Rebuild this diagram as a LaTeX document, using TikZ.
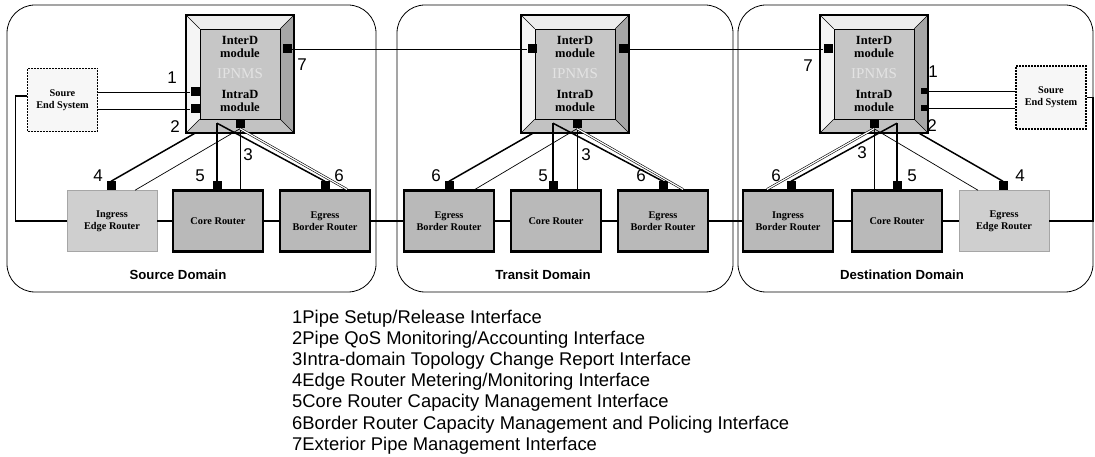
\documentclass[tikz,border=0pt]{standalone}
\usepackage{fontspec}
\setmainfont{Liberation Serif}
\setsansfont{Liberation Sans}
\usetikzlibrary{calc}
\tikzset{
 domainbox/.style={draw, line width=0.8pt, rounded corners=28pt},
 darkrouter/.style={draw, line width=2.2pt, fill=gray!55, minimum width=90pt, minimum height=61pt, inner sep=0pt, align=center, font=\bfseries\fontsize{10.3}{12}\selectfont},
 lightrouter/.style={darkrouter, line width=0.5pt, draw=gray!70, fill=gray!38},
 endsys/.style={draw, line width=1.6pt, dash pattern=on 2pt off 1pt, fill=gray!6, minimum width=70pt, minimum height=63pt, inner sep=0pt, align=center, font=\bfseries\fontsize{10.3}{12}\selectfont},
 port/.style={fill=black, minimum size=9pt, inner sep=0pt},
 smallport/.style={fill=black, minimum size=6pt, inner sep=0pt},
 num/.style={font=\sffamily\fontsize{17}{17}\selectfont, inner sep=0pt},
 ctl/.style={line width=1.5pt},
 info/.style={line width=0.7pt},
 dbl/.style={double, double distance=1.2pt, line width=0.6pt},
 domlabel/.style={font=\sffamily\bfseries\fontsize{13.2}{14}\selectfont, inner sep=0pt},
 legend/.style={font=\sffamily\fontsize{18.4}{20}\selectfont, anchor=base west, inner sep=0pt},
 modtext/.style={font=\bfseries\fontsize{12.5}{13}\selectfont, align=center, inner sep=0pt},
}
\newcommand{\IPbox}[2]{%
 \fill[gray!14] ({#2-54},15) -- ({#2+54},15) -- ({#2+40},29) -- ({#2-40},29) -- cycle;
 \fill[gray!8] ({#2-54},15) -- ({#2-40},29) -- ({#2-40},119) -- ({#2-54},133) -- cycle;
 \fill[gray!70] ({#2+54},15) -- ({#2+54},133) -- ({#2+40},119) -- ({#2+40},29) -- cycle;
 \fill[gray!48] ({#2-54},133) -- ({#2+54},133) -- ({#2+40},119) -- ({#2-40},119) -- cycle;
 \node[draw, line width=0.6pt, fill=gray!45, minimum width=80pt, minimum height=90pt, inner sep=0pt] (#1in) at (#2,74) {};
 \draw[line width=0.6pt] ({#2-54},15) -- (#1in.north west) ({#2+54},15) -- (#1in.north east) ({#2-54},133) -- (#1in.south west) ({#2+54},133) -- (#1in.south east);
 \node[draw, line width=2.4pt, minimum width=108pt, minimum height=118pt, inner sep=0pt] (#1) at (#2,74) {};
 \node[font=\fontsize{15}{15}\selectfont, text=gray!22, inner sep=0pt] (#1wm) at (#2,74) {IPNMS};
 \node[modtext] (#1inter) at (#2,47) {InterD\\module};
 \node[modtext] (#1intra) at (#2,101) {IntraD\\module};
}
\begin{document}
\begin{tikzpicture}[x=1pt,y=-1pt]
\useasboundingbox (0,0) rectangle (1095,457);
\fill[white] (0,0) rectangle (1095,457);
% domains
\draw[domainbox] (7,5) rectangle (376,292);
\draw[domainbox] (397,5) rectangle (733,292);
\draw[domainbox] (738,5) rectangle (1093,292);
% IPNMS boxes
\IPbox{ipA}{240}
\IPbox{ipB}{575}
\IPbox{ipC}{874}
% end systems
\node[endsys] (es1) at (62.5,100) {Soure\\End System};
\node[endsys] (es2) at (1051,97.5) {Soure\\End System};
% routers
\node[lightrouter] (rA1) at (112,221) {Ingress\\Edge Router};
\node[darkrouter] (rA2) at (218,221) {Core Router};
\node[darkrouter] (rA3) at (325,221) {Egress\\Border Router};
\node[darkrouter] (rB1) at (449,221) {Egress\\Border Router};
\node[darkrouter] (rB2) at (556,221) {Core Router};
\node[darkrouter] (rB3) at (663,221) {Egress\\Border Router};
\node[darkrouter] (rC1) at (788,221) {Ingress\\Border Router};
\node[darkrouter] (rC2) at (897,221) {Core Router};
\node[lightrouter] (rC3) at (1004,221) {Egress\\Edge Router};
% ports on IPNMS
\node[port] (pA1) at (195,92) {};
\node[port] (pA2) at (195,109) {};
\node[port] (pA7) at (287,49) {};
\node[port] (pAb) at (240,124) {};
\node[port] (pBl) at (532,49) {};
\node[port] (pBr) at (623,49) {};
\node[port] (pBb) at (577,124) {};
\node[port] (pCl) at (828,49) {};
\node[smallport] (pC1) at (924,91) {};
\node[smallport] (pC2) at (924,108) {};
\node[port] (pCb) at (874,124) {};
% ports on routers
\node[port] (qA1) at (111,186) {};
\node[port] (qA2) at (217,186) {};
\node[port] (qA3) at (325,186) {};
\node[port] (qB1) at (449,186) {};
\node[port] (qB2) at (553,186) {};
\node[port] (qB3) at (663,186) {};
\node[port] (qC1) at (791,186) {};
\node[port] (qC2) at (897,186) {};
\node[port] (qC3) at (1003,186) {};
% data path
\draw[ctl] ($(es1.west)+(0,-4)$) -- ++(-11,0) |- (rA1.west);
\draw[ctl] (rA1.east) -- (rA2.west) (rA2.east) -- (rA3.west) (rA3.east) -- (rB1.west)
  (rB1.east) -- (rB2.west) (rB2.east) -- (rB3.west) (rB3.east) -- (rC1.west)
  (rC1.east) -- (rC2.west) (rC2.east) -- (rC3.west);
\draw[ctl] (rC3.east) -| ($(es2.east)+(6,0)$) -- (es2.east);
% end system to IPNMS
\draw[info] (es1.east |- pA1) -- (pA1.west);
\draw[info] (es1.east |- pA2) -- (pA2.west);
\draw[info] (pC1.east) -- (es2.west |- pC1);
\draw[info] (pC2.east) -- (es2.west |- pC2);
% exterior pipe
\draw[info] (pA7.east) -- (pBl.west);
\draw[info] (pBr.east) -- (pCl.west);
% source connectors
\draw[ctl] ($(ipA.south)+(-45,-1)$) -- (qA1.north);
\draw[ctl] ($(ipA.south)+(-23,-11)$) -- (qA2.north);
\draw[ctl] ($(ipA.south)+(-23,-11)$) -- (qA3.north);
\draw[info] (pAb.south) -- ($(rA1.north)+(23,0)$);
\draw[info] (pAb.south) -- (pAb.south |- rA2.north);
\draw[dbl] (pAb.south) -- ($(rA3.north)+(22,0)$);
% transit connectors
\draw[ctl] ($(ipB.south)+(-42,-1)$) -- (qB1.north);
\draw[ctl] ($(ipB.south)+(-22,-11)$) -- (qB2.north);
\draw[ctl] ($(ipB.south)+(-22,-11)$) -- (qB3.north);
\draw[info] (pBb.south) -- ($(rB1.north)+(26,0)$);
\draw[info] (pBb.south) -- (pBb.south |- rB2.north);
\draw[dbl] (pBb.south) -- ($(rB3.north)+(20,0)$);
% destination connectors
\draw[ctl] ($(ipC.south)+(23,-11)$) -- (qC2.north);
\draw[ctl] ($(ipC.south)+(23,-11)$) -- (qC1.north);
\draw[ctl] ($(ipC.south)+(45,-1)$) -- (qC3.north);
\draw[info] (pCb.south) -- ($(rC3.north)+(-26,0)$);
\draw[info] (pCb.south) -- (pCb.south |- rC2.north);
\draw[dbl] (pCb.south) -- ($(rC1.north)+(-21,0)$);
% numbers
\node[num] (nA1) at (172,78) {1};
\node[num] (nA2) at (175,127) {2};
\node[num] (nA7) at (302,65) {7};
\node[num] (nA4) at (98,176) {4};
\node[num] (nA5) at (200,176) {5};
\node[num] (nA3) at (248,155) {3};
\node[num] (nA6) at (339,176) {6};
\node[num] (nB6) at (436,176) {6};
\node[num] (nB5) at (543,176) {5};
\node[num] (nB3) at (586,155) {3};
\node[num] (nB6b) at (641,176) {6};
\node[num] (nC7) at (808,66) {7};
\node[num] (nC1) at (933,72) {1};
\node[num] (nC2) at (932,126) {2};
\node[num] (nC6) at (776,176) {6};
\node[num] (nC3) at (862,153) {3};
\node[num] (nC5) at (912,176) {5};
\node[num] (nC4) at (1020,176) {4};
% domain labels
\node[domlabel] (dlA) at (178,275) {Source Domain};
\node[domlabel] (dlB) at (543,275) {Transit Domain};
\node[domlabel] (dlC) at (902,275) {Destination Domain};
% legend
\foreach \t [count=\i] in {1Pipe Setup/Release Interface,
  2Pipe QoS Monitoring/Accounting Interface,
  3Intra-domain Topology Change Report Interface,
  4Edge Router Metering/Monitoring Interface,
  5Core Router Capacity Management Interface,
  6Border Router Capacity Management and Policing Interface,
  7Exterior Pipe Management Interface}
  \node[legend] (leg\i) at (292,{323+(\i-1)*21.2}) {\t};
\end{tikzpicture}
\end{document}
